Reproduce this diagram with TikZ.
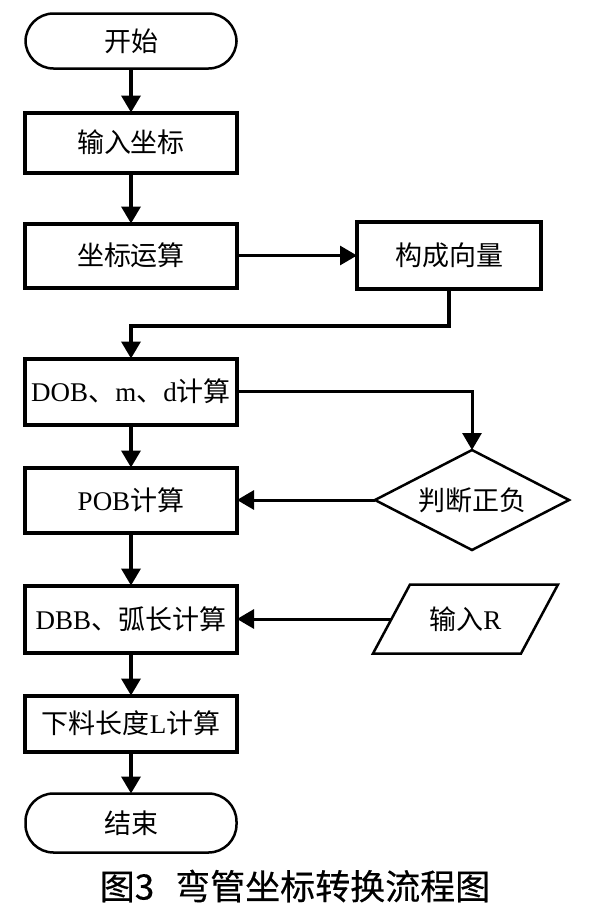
\documentclass[tikz,border=0pt]{standalone}
\usepackage{fontspec}
\setmainfont{Liberation Serif}
\newfontfamily\cjk{Noto Sans CJK SC}
\newfontfamily\cjkcap[FakeBold=0.4]{Noto Sans CJK SC}
\newcommand{\zh}[1]{{\cjk #1}}
\usepackage{tikz}
\usetikzlibrary{arrows.meta,positioning,shapes.geometric}

\begin{document}
\begin{tikzpicture}[x=1pt, y=1pt, >={Triangle[width=19pt,length=17pt]},
  every node/.style={outer sep=0pt},
  box/.style={draw, line width=4pt, fill=white, minimum width=212pt, inner sep=0pt, font=\fontsize{27}{30}\selectfont},
  term/.style={draw, line width=2.5pt, rounded corners=28pt, minimum width=211pt, inner sep=0pt, font=\fontsize{27}{30}\selectfont},
  dec/.style={draw, diamond, aspect=2, line width=2.5pt, minimum width=194pt, minimum height=100pt, inner sep=0pt, font=\fontsize{27}{30}\selectfont},
  io/.style={minimum width=185pt, minimum height=69pt, inner sep=0pt, font=\fontsize{27}{30}\selectfont},
  link/.style={->, line width=3.5pt}]
\useasboundingbox (0,0) rectangle (590,-922);
\node[term, minimum height=55pt] (start) at (131,-41) {\zh{开始}};
\node[box, minimum height=60pt, below=44pt of start] (input) {\zh{输入坐标}};
\node[box, minimum height=64pt, below=51pt of input] (calc) {\zh{坐标运算}};
\node[box, minimum width=184pt, minimum height=67pt, right=120pt of calc] (vec) {\zh{构成向量}};
\node[box, minimum height=66pt, below=71pt of calc] (dob) {DOB\zh{、}m\zh{、}d\zh{计算}};
\node[box, minimum height=65pt, below=43pt of dob] (pob) {POB\zh{计算}};
\node[dec, right=138pt of pob] (sign) {\zh{判断正负}};
\node[box, minimum height=67pt, below=53pt of pob] (dbb) {DBB\zh{、弧长计算}};
\node[io, right=136pt of dbb] (inR) {\zh{输入}R};
\draw[line width=2.5pt, line join=miter] (inR.south west) -- ++(148,0) -- (inR.north east) -- ++(-148,0) -- cycle;
\coordinate (inRleft) at ([xshift=18.5pt]inR.west);
\node[box, minimum height=56pt, below=43pt of dbb] (cut) {\zh{下料长度}L\zh{计算}};
\node[term, minimum height=59pt, below=42pt of cut] (stop) {\zh{结束}};
\node[font=\cjkcap\fontsize{35}{40}\selectfont] (cap) at (295,-886) {图3\hspace{0.6em}弯管坐标转换流程图};
% connectors
\draw[link] (start) -- (input);
\draw[link] (input) -- (calc);
\draw[link, line width=3pt] (calc) -- (vec);
\draw[link] (vec.south) -- ++(0,-37) -| (dob.north);
\draw[link] (dob) -- (pob);
\draw[link, line width=3pt] (dob.east) -| (sign.north);
\draw[link, line width=3pt] (sign.west) -- (pob.east);
\draw[link] (pob) -- (dbb);
\draw[link, line width=3pt] (inRleft) -- (dbb.east);
\draw[link] (dbb) -- (cut);
\draw[link] (cut) -- (stop);
\end{tikzpicture}
\end{document}
